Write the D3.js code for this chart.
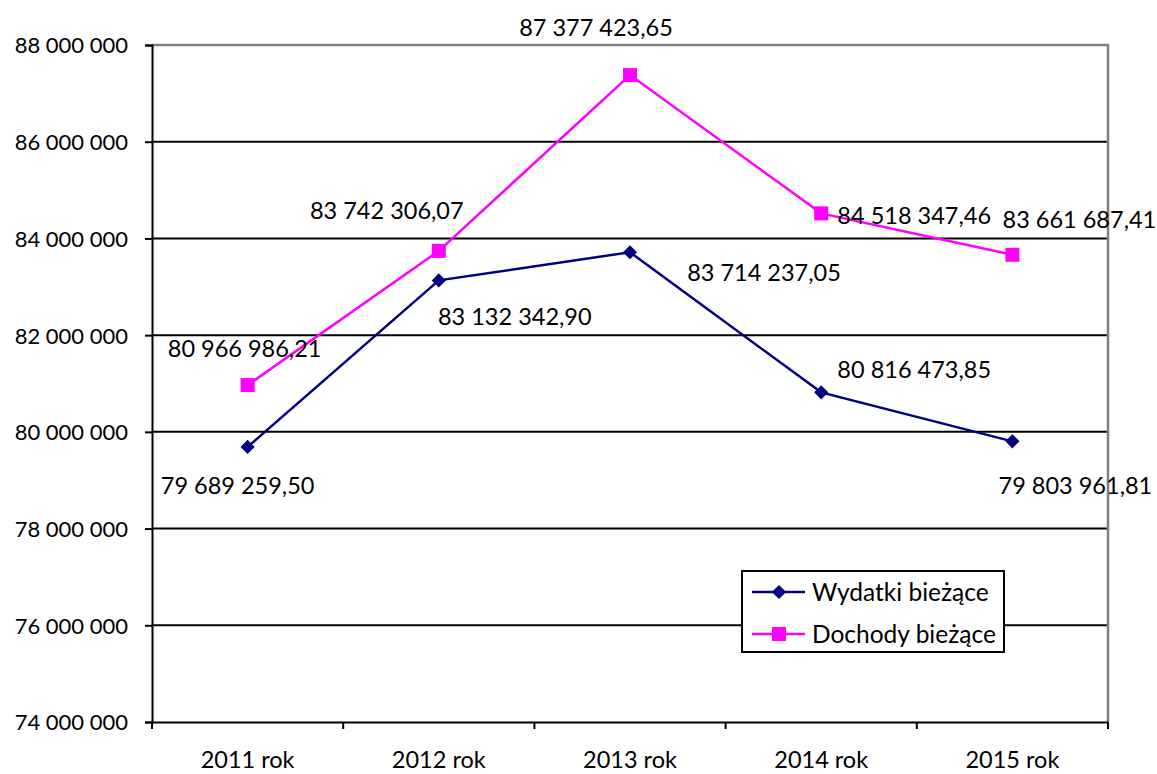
<html>
<head>
<script src="https://d3js.org/d3.v7.min.js"></script>
<style>
  body { margin:0; background:#fff; }
  text { font-family: Lato, "Open Sans", sans-serif; fill:#000; }
</style>
</head>
<body>
<svg id="chart"></svg>
<script>
// data
var years = ["2011 rok","2012 rok","2013 rok","2014 rok","2015 rok"];
var wydatki = [79689259.50, 83132342.90, 83714237.05, 80816473.85, 79803961.81];
var dochody = [80966986.21, 83742306.07, 87377423.65, 84518347.46, 83661687.41];
var yTicks = [74000000,76000000,78000000,80000000,82000000,84000000,86000000,88000000];

// label placement (dx, dy from point)
var wydOffsets = [[-10,39],[76,36],[134,20],[93,-23],[63,44]];
var dochOffsets = [[-3,-37],[-52,-40],[-34,-48],[93,2],[67,-35]];

var width = 1157, height = 774;
var margin = {top:45,right:49,bottom:52,left:152};
var fs = 23.5;

var svg = d3.select("#chart").attr("width",width).attr("height",height);

var x = d3.scaleBand().domain(years).range([margin.left,width-margin.right]);
var y = d3.scaleLinear().domain([74000000,88000000]).range([height-margin.bottom,margin.top]);

var fmtNum = function(v, dec) {
  var s = v.toFixed(dec).split(".");
  var int = s[0].replace(/\B(?=(\d{3})+(?!\d))/g," ");
  return dec ? int + "," + s[1] : int;
};

// gridlines
svg.append("g").selectAll("line")
  .data(yTicks.filter(function(d){ return d > 74000000 && d < 88000000; }))
  .enter().append("line")
  .attr("x1",margin.left).attr("x2",width-margin.right)
  .attr("y1",function(d){return y(d);}).attr("y2",function(d){return y(d);})
  .attr("stroke","#000").attr("stroke-width",2);

// plot border top/right (gray)
svg.append("path")
  .attr("d","M"+margin.left+","+y(88000000)+"H"+(width-margin.right)+"V"+y(74000000))
  .attr("fill","none").attr("stroke","#808080").attr("stroke-width",2.5);

// y axis
var yAxis = svg.append("g")
  .attr("transform","translate("+margin.left+",0)")
  .call(d3.axisLeft(y).tickValues(yTicks).tickSize(7).tickFormat(function(d){return fmtNum(d,0);}));
yAxis.selectAll("text").attr("font-size",22).attr("dx",-14).attr("dy","0.36em")
  .style("font-family","Lato, sans-serif");

// x axis
var xAxis = svg.append("g")
  .attr("transform","translate(0,"+y(74000000)+")")
  .call(d3.axisBottom(x).tickSize(0));
xAxis.selectAll("text").attr("font-size",fs).attr("dy",43).style("font-family","Lato, sans-serif");
xAxis.selectAll(".tick line").remove();
xAxis.append("g").selectAll("line")
  .data(years.map(function(d){return x(d);}).concat([width-margin.right]))
  .enter().append("line")
  .attr("x1",function(d){return d;}).attr("x2",function(d){return d;})
  .attr("y1",0).attr("y2",7).attr("stroke","#000").attr("stroke-width",2);
svg.selectAll(".domain").attr("stroke","#000").attr("stroke-width",2);
yAxis.selectAll(".tick line").attr("stroke-width",2);

var cx = function(d,i){ return x(years[i]) + x.bandwidth()/2; };
var line = d3.line().x(function(d,i){return cx(d,i);}).y(function(d){return y(d);});

// series lines
svg.append("path").datum(wydatki).attr("d",line)
  .attr("fill","none").attr("stroke","#000080").attr("stroke-width",2.5);
svg.append("path").datum(dochody).attr("d",line)
  .attr("fill","none").attr("stroke","#FF00FF").attr("stroke-width",2.5);

// markers
var diamond = d3.symbol().type(d3.symbolSquare).size(100);
svg.append("g").selectAll("path").data(wydatki).enter().append("path")
  .attr("d",diamond)
  .attr("transform",function(d,i){return "translate("+cx(d,i)+","+y(d)+") rotate(45)";})
  .attr("fill","#000080");
svg.append("g").selectAll("rect").data(dochody).enter().append("rect")
  .attr("x",function(d,i){return cx(d,i)-7;}).attr("y",function(d){return y(d)-7;})
  .attr("width",14).attr("height",14).attr("fill","#FF00FF");

// data labels
svg.append("g").selectAll("text").data(wydatki).enter().append("text")
  .attr("x",function(d,i){return cx(d,i)+wydOffsets[i][0];})
  .attr("y",function(d,i){return y(d)+wydOffsets[i][1];})
  .attr("text-anchor","middle").attr("dy","0.36em")
  .attr("font-size",fs).text(function(d){return fmtNum(d,2);});
svg.append("g").selectAll("text").data(dochody).enter().append("text")
  .attr("x",function(d,i){return cx(d,i)+dochOffsets[i][0];})
  .attr("y",function(d,i){return y(d)+dochOffsets[i][1];})
  .attr("text-anchor","middle").attr("dy","0.36em")
  .attr("font-size",fs).text(function(d){return fmtNum(d,2);});

// legend
var lg = svg.append("g").attr("transform","translate(742,571)");
lg.append("rect").attr("width",262).attr("height",81)
  .attr("fill","#fff").attr("stroke","#000").attr("stroke-width",2);
var legendItems = [
  {name:"Wydatki bieżące", color:"#000080", shape:"diamond"},
  {name:"Dochody bieżące", color:"#FF00FF", shape:"square"}
];
var li = lg.selectAll(".li").data(legendItems).enter().append("g")
  .attr("transform",function(d,i){return "translate(0,"+(21+i*42)+")";});
li.append("line").attr("x1",10).attr("x2",63).attr("y1",0).attr("y2",0)
  .attr("stroke",function(d){return d.color;}).attr("stroke-width",2.5);
li.append("path")
  .attr("d",function(d){ return d.shape=="diamond" ? diamond() : d3.symbol().type(d3.symbolSquare).size(196)(); })
  .attr("transform",function(d){ return "translate(37,0)" + (d.shape=="diamond" ? " rotate(45)" : ""); })
  .attr("fill",function(d){return d.color;});
li.append("text").attr("x",70).attr("y",0).attr("dy","0.36em")
  .attr("font-size",24.5).text(function(d){return d.name;});
</script>
</body>
</html>
